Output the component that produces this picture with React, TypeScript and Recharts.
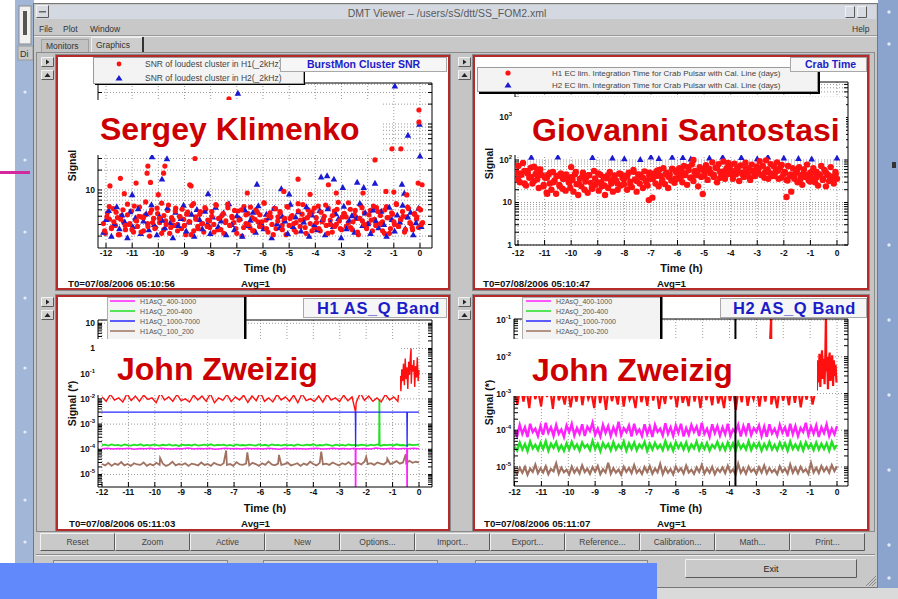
import React from 'react';
import { ComposedChart, Scatter, Line, XAxis, YAxis, CartesianGrid, ReferenceLine } from 'recharts';

const FONT = "'Liberation Sans', Arial, Helvetica, sans-serif";

// ---------------- data ----------------
const hourTicks = [-12, -11, -10, -9, -8, -7, -6, -5, -4, -3, -2, -1, 0];

// Top-left: BurstMon cluster SNR
const tlRedBand = [
  3.1,2.2,4.5,3.6,2.6,5.2,2.9,3.8,2.1,4.1,3.3,2.5,6.1,3.0,4.8,2.3,3.5,2.8,5.5,3.9,
  2.4,4.2,3.1,2.0,5.0,3.7,2.7,4.4,3.2,6.3,2.5,3.4,4.9,2.2,3.8,2.9,5.3,3.0,4.0,2.6,
  3.6,2.1,4.6,3.3,5.8,2.4,3.9,2.8,4.3,3.1,2.3,5.1,3.5,2.7,4.7,3.0,6.0,2.5,3.7,4.1,
  2.2,3.4,5.4,2.9,4.0,3.2,2.6,4.8,3.6,2.0,5.6,3.1,4.4,2.7,3.8,2.4,5.0,3.3,4.2,2.8,
  6.4,3.5,2.3,4.5,3.0,5.2,2.6,3.9,4.7,2.9,3.4,2.1,5.5,3.7,4.1,2.5,3.2,6.2,2.8,4.3,
  3.6,2.2,5.0,3.1,4.6,2.7,3.8,5.7,2.4,3.3,4.0,2.9,5.3,3.5,2.3,4.8,3.0,6.5,2.6,3.9,
  4.4,2.8,3.2,5.1,2.5,4.2,3.7,2.1,5.9,3.4,4.5,2.7,3.1,4.9,2.4,3.6,5.4,2.9,4.1,3.3,
  2.2,5.6,3.8,2.6,4.3,3.0,6.0,2.8,3.5,4.7,2.3,3.9,5.2,3.1,2.5,4.4,3.6,2.7,5.0,3.2,
];
const tlRedBand2 = [
  2.4,3.9,5.6,2.7,3.3,4.6,2.1,3.6,5.0,2.9,4.2,3.1,2.5,5.7,3.4,4.0,2.3,3.8,6.6,2.8,
  4.5,3.2,2.6,5.3,3.7,2.2,4.1,3.0,5.9,2.7,3.5,4.8,2.4,3.9,5.1,2.9,4.3,3.3,2.1,6.2,
  3.6,2.6,4.7,3.1,5.4,2.8,3.4,4.0,2.3,5.8,3.7,2.5,4.4,3.2,6.1,2.9,3.8,4.9,2.2,3.5,
  5.0,2.7,4.2,3.0,5.5,2.4,3.6,4.6,2.8,3.3,6.3,2.6,4.1,3.9,2.1,5.2,3.4,4.5,2.5,3.7,
  5.6,2.9,4.0,3.1,2.3,4.8,3.5,6.0,2.7,3.8,4.3,2.4,5.3,3.2,2.6,4.6,3.6,5.9,2.2,3.0,
  4.1,2.8,5.1,3.4,2.5,4.4,3.9,6.4,2.7,3.3,4.9,2.3,3.7,5.4,3.0,2.6,4.2,3.5,5.7,2.9,
  4.7,3.1,2.4,5.0,3.8,2.2,4.5,3.3,6.2,2.8,3.6,4.0,2.5,5.5,3.2,2.7,4.3,3.9,5.2,3.0,
];
const tlBlueBand = [
  2.3,3.6,4.9,2.0,3.1,5.6,2.6,4.2,3.3,1.9,4.7,2.8,3.8,5.2,2.2,3.4,4.4,2.5,6.0,3.0,
  2.1,4.0,3.5,2.7,5.4,3.2,1.9,4.6,2.9,3.7,5.9,2.4,3.3,4.3,2.0,5.1,3.6,2.6,4.8,3.1,
  2.2,3.9,5.5,2.8,3.4,4.5,2.1,6.2,3.0,2.5,4.1,3.7,2.0,5.0,2.9,3.5,4.6,2.3,5.8,3.2,
  2.6,4.3,3.8,1.9,5.3,3.1,2.7,4.0,3.4,2.2,6.1,2.8,3.9,4.7,2.4,3.3,5.6,2.0,4.2,3.0,
  2.5,4.9,3.6,2.1,5.2,3.2,2.8,4.4,3.7,1.9,5.7,2.6,3.5,4.1,2.3,3.8,6.3,2.9,4.5,3.1,
  2.2,5.0,3.4,2.7,4.8,3.0,2.0,5.5,3.6,2.4,4.2,3.3,5.9,2.6,3.9,4.6,2.1,3.2,5.3,2.8,
];
const tlRedOutliers = [
  [-11.85,11.5],[-11.45,15],[-11.3,8.8],[-10.85,12.7],[-10.43,18],[-10.4,23],[-10.3,13],[-10.0,8.5],
  [-9.8,18],[-9.75,23],[-8.8,12],[-8.75,11.5],[-8.6,30],[-7.3,240],[-6.6,9],[-5.2,9.5],[-4.66,14.6],
  [-4.2,8.6],[-3.5,12],[-3.2,9],[-2.18,9],[-1.72,28.5],[-1.3,9.5],[-1.07,42],[-1.0,9.3],[-0.73,42],
  [-0.5,8.4],[-0.04,163],[-0.04,107],[-0.07,12.7],[0.08,12],
];
const tlBlueOutliers = [
  [-11.0,8.5],[-10.24,32],[-9.86,14.7],[-9.67,30],[-8.1,8.8],[-6.96,295],[-6.23,12.3],[-5.3,10.5],
  [-5.0,8.7],[-3.78,15.8],[-3.55,16.5],[-3.29,14.7],[-2.95,11],[-2.4,13.2],[-2.15,11],[-1.72,12.7],
  [-0.96,378],[-0.69,12.3],[-0.6,9],[-0.46,68],[-0.02,100],[0,33],
];

// Top-right: Crab time
const trRedBand = [
  50,72,30,45,85,55,25,48,38,66,28,70,47,35,22,60,44,
  24,38,17,45,28,20,52,33,16,42,26,48,21,36,19,40,30,
  22,40,18,46,27,15,36,24,50,20,38,17,44,29,21,55,26,
  30,19,45,24,40,15,37,22,52,28,18,43,33,20,48,25,38,
  27,42,20,50,31,23,58,35,18,46,28,40,22,54,33,25,44,
  36,13,48,28,56,24,42,30,64,27,50,22,45,33,60,29,52,
  36,64,40,30,72,48,26,58,38,78,32,55,44,24,68,40,60,
  45,75,34,62,48,88,40,66,30,80,52,42,92,36,64,47,76,
  55,36,82,46,66,32,74,50,40,86,48,64,34,78,53,42,70,
  58,94,45,72,38,98,60,50,80,42,70,52,88,36,66,76,46,
  52,34,72,42,18,64,36,50,30,68,44,26,60,40,78,34,50,
  38,64,30,52,25,46,72,34,58,24,45,32,68,40,28,52,36,
];
const trRedBand2 = [
  35,48,28,55,40,32,60,45,26,38,50,30,42,24,36,46,29,34,52,27,
  40,31,44,22,37,48,30,25,43,33,39,28,47,35,41,26,53,32,45,38,
  30,50,36,42,58,34,46,40,62,37,48,55,44,68,39,52,46,60,42,57,
  50,45,64,38,54,48,70,43,58,51,46,63,40,55,49,66,44,52,36,47,
  42,56,38,50,33,46,40,58,35,48,44,31,52,39,45,37,50,42,34,46,
];
const trRedOutliers = [[-10.0,68],[-7.08,11.4],[-5.4,100],[-5.05,15.8],[-1.9,13.5],[-10.9,16],[-4.1,85]];
const trBlue = [
  [-11.5,117],[-10.5,118],[-9.2,115],[-8.45,112],[-8.0,108],[-7.4,104],[-7.0,119],[-6.7,110],[-6.2,117],
  [-5.8,115],[-5.5,106],[-4.8,112],[-4.3,118],[-3.6,116],[-3.0,108],[-2.6,119],[-2.0,113],[-1.45,110],
  [-0.95,107],[0,112],
];

// Bottom-left: H1 AS_Q band
const blRed = [
  1.2,0.8,1.5,0.9,1.1,0.75,1.6,0.85,1.3,0.8,1.4,0.95,1.1,0.7,1.7,0.9,1.2,0.8,1.5,0.85,
  1.0,0.75,1.4,0.9,1.3,0.8,1.6,0.7,1.1,0.88,1.5,0.78,1.2,0.9,1.4,0.72,1.3,0.85,1.8,0.8,
  1.1,0.76,1.5,0.9,1.2,0.8,1.4,0.7,1.6,0.86,1.0,0.8,1.3,0.74,1.5,0.9,1.1,0.78,1.4,0.84,
  1.2,0.72,1.7,0.88,1.3,0.8,1.1,0.76,1.5,0.9,1.2,0.8,
];
const blRedEnd = [3,8,2,15,5,25,3.5,40,6,18,2.5,30,9,50,4,22,12,35,3,20,7,45,5,14];
const blRedSpikes = [[-2.4,0.3],[-0.3,100]];
const blGreen = [
  1.45,1.52,1.4,1.56,1.43,1.5,1.38,1.55,1.46,1.41,1.53,1.44,1.58,1.39,1.49,1.42,1.54,1.47,1.4,1.51,
  1.44,1.57,1.41,1.48,1.36,1.53,1.45,1.5,1.42,1.55,1.39,1.47,1.52,1.43,1.58,1.4,1.49,1.46,1.54,1.41,
  1.5,1.37,1.56,1.44,1.48,1.42,1.53,1.45,1.4,1.57,1.43,1.51,1.38,1.55,1.46,1.49,1.41,1.54,1.44,1.5,
  1.39,1.56,1.47,1.42,1.52,1.45,1.58,1.4,1.48,1.43,1.55,1.46,1.38,1.53,1.44,1.5,1.41,1.57,1.45,1.49,
  1.42,1.54,1.47,1.4,1.52,1.44,1.56,1.39,1.5,1.46,1.53,1.42,1.58,1.45,1.48,1.41,1.55,1.47,1.5,1.52,
];
const blGreenSpikes = [[-1.51,1.46],[-1.5,100],[-1.49,1.47]];
const blMagenta = [
  1.05,1.1,1.02,1.08,1.04,1.11,1.01,1.07,1.05,1.09,1.03,1.1,1.06,1.02,1.08,1.04,1.12,1.03,1.07,1.05,
  1.09,1.01,1.06,1.1,1.04,1.08,1.02,1.11,1.05,1.07,1.03,1.09,1.06,1.01,1.1,1.04,1.08,1.05,1.02,1.07,
  1.11,1.03,1.06,1.09,1.04,1.08,1.02,1.1,1.05,1.07,1.03,1.12,1.06,1.04,1.09,1.02,1.08,1.05,1.1,1.06,
];
const blMagentaDips = [[-2.41,1.06],[-2.4,0.001],[-2.39,1.05],[-0.46,1.07],[-0.45,0.001],[-0.44,1.06]];
const blBrown = [
  2.6,2.3,2.9,2.2,2.7,2.4,3.1,2.3,2.6,2.2,2.8,2.5,2.4,3.0,2.2,2.6,2.3,2.9,2.4,2.7,
  2.2,2.5,3.2,2.3,2.6,2.4,2.8,2.2,2.7,2.5,2.3,3.0,2.4,2.6,2.2,2.9,2.5,2.3,2.8,2.4,
  2.6,2.2,3.1,2.5,2.4,2.7,2.3,2.9,2.6,2.2,2.8,2.4,3.3,2.5,2.3,2.7,2.4,2.6,3.0,2.3,
  2.5,2.8,2.2,2.7,2.4,3.2,2.6,2.3,2.9,2.5,2.7,2.4,3.0,2.6,2.3,2.8,2.5,3.1,2.4,2.7,
  2.9,2.5,3.3,2.6,2.8,2.4,3.0,2.7,2.5,3.2,2.6,2.9,3.4,2.7,3.0,2.8,3.5,2.9,3.2,3.0,
];
const blBrownSpikes = [[-9.8,4.5],[-7.3,9],[-6.5,7.5],[-5.3,6],[-3.7,8],[-2.0,5],[-1.2,4.2],[-0.5,6.5]];
const blBlue = [[-12,3],[-2.41,3],[-2.4,0.12],[-2.39,3],[-0.46,3],[-0.45,0.12],[-0.44,3],[0,3]];

// Bottom-right: H2 AS_Q band
const brRed = [
  1.0,0.5,1.8,0.6,1.4,0.4,2.2,0.7,1.2,0.45,1.9,0.8,1.5,0.38,2.4,0.65,1.1,0.5,1.7,0.42,
  1.3,0.6,2.0,0.48,1.6,0.7,1.1,0.4,2.3,0.55,1.4,0.36,1.8,0.62,1.2,0.5,2.1,0.44,1.5,0.68,
  1.0,0.4,1.9,0.58,1.3,0.46,2.5,0.64,1.6,0.38,1.2,0.52,2.0,0.7,1.4,0.42,1.7,0.56,1.1,0.45,
  2.2,0.6,1.5,0.4,1.8,0.66,1.3,0.48,2.4,0.54,1.0,0.4,1.9,0.62,1.4,0.36,1.6,0.58,2.1,0.46,
  1.2,0.7,1.7,0.44,1.5,0.6,2.3,0.5,1.1,0.4,1.8,0.64,1.3,0.48,2.0,0.56,1.6,0.42,1.4,0.68,
  1.9,0.5,1.2,
];
const brRedEnd = [3,1.2,8,2,12,1.5,6,15,2.5,9,1.8,14,4,10,1.3,7,13,2.2,5,11,1.6,8,3,6,2];
const brRedSpikes = [[-2.45,120],[-0.41,200]];
const brMagenta = [
  1.0,0.7,1.4,0.8,1.2,0.65,1.5,0.9,1.1,0.7,1.3,0.75,1.6,0.85,1.2,0.7,1.4,0.8,1.05,0.66,
  1.35,0.9,1.5,0.72,1.15,0.8,1.45,0.7,1.25,0.95,1.6,0.75,1.1,0.68,1.4,0.85,1.3,0.7,1.2,0.8,
  1.7,0.74,1.15,0.9,1.35,0.68,1.5,0.82,1.05,0.7,1.45,0.78,1.25,0.66,1.4,0.9,1.1,0.72,1.55,0.8,
  1.2,0.7,1.35,0.85,1.5,0.68,1.15,0.76,1.4,0.9,1.25,0.7,1.6,0.8,1.1,0.66,1.45,0.84,1.3,0.72,
  1.2,0.78,1.5,0.7,1.05,0.88,1.4,0.68,1.3,0.8,1.55,0.74,1.15,0.9,1.35,0.7,1.25,0.66,1.45,0.82,
  1.1,0.72,1.4,0.86,1.2,0.68,1.5,0.78,1.3,0.7,1.15,0.9,1.6,0.74,1.25,0.8,1.35,0.66,1.2,0.84,
  1.45,0.7,1.1,0.78,1.3,
];
const brGreen = [
  3.6,2.8,4.6,3.0,4.2,2.7,4.9,3.2,4.0,2.9,4.5,3.1,5.0,2.8,4.3,3.3,4.7,2.9,3.9,2.75,
  4.4,3.0,4.8,3.2,4.1,2.8,4.6,3.4,4.0,2.9,5.1,3.1,4.3,2.7,4.5,3.3,4.2,2.85,4.7,3.0,
  4.0,3.2,4.9,2.8,4.4,3.1,4.6,2.9,4.1,3.3,4.8,2.75,4.3,3.0,4.5,3.2,4.0,2.9,5.0,3.1,
  4.2,2.8,4.7,3.3,4.4,3.0,4.6,2.85,4.1,3.2,4.9,2.9,4.3,3.1,4.5,2.8,4.0,3.3,4.8,3.0,
  4.2,2.9,4.6,3.1,4.4,2.75,4.7,3.2,4.1,3.0,5.0,2.9,4.3,3.3,4.5,2.8,4.2,3.1,4.8,3.0,
  4.0,2.9,4.6,3.2,4.4,2.8,4.9,3.1,4.1,3.0,4.5,2.85,4.7,3.3,4.2,2.9,4.6,3.0,4.3,3.1,
  4.4,2.8,4.8,3.2,4.0,
];
const brBrown = [
  8.0,6.5,9.5,7.0,10.0,6.2,9.0,7.4,11.5,6.8,9.2,7.1,10.4,6.4,8.8,7.6,12.5,6.6,9.6,7.2,
  8.4,6.3,10.2,7.0,9.1,6.7,11.0,7.3,8.9,6.5,9.8,7.5,10.6,6.4,8.7,7.1,13.0,6.6,9.3,7.0,
  8.5,6.2,10.1,7.4,9.4,6.8,11.2,7.0,8.6,6.5,9.9,7.3,10.5,6.6,9.0,7.2,12.0,6.4,9.5,7.0,
  8.8,6.3,10.3,7.5,9.2,6.7,10.8,7.1,8.4,6.5,9.7,7.3,11.4,6.6,9.1,7.0,10.0,6.4,8.9,7.4,
  9.6,6.8,10.7,7.2,8.6,6.3,12.2,7.0,9.3,6.6,10.2,7.5,8.8,6.5,9.9,7.1,11.0,6.7,9.4,7.2,
  8.5,6.4,10.4,7.3,9.0,6.6,11.6,7.0,9.7,6.8,10.1,7.4,8.7,6.5,12.8,7.1,9.5,6.9,10.6,7.6,
  9.8,7.0,11.2,7.8,10.4,
];
const brMarkerTime = -3.78;

// texts
const tlLegend = ['SNR of loudest cluster in H1(_2kHz)', 'SNR of loudest cluster in H2(_2kHz)'];
const trLegend = [
  'H1 EC lim. Integration Time for Crab Pulsar with Cal. Line (days)',
  'H2 EC lim. Integration Time for Crab Pulsar with Cal. Line (days)',
];
const blLegend = ['H1AsQ_400-1000', 'H1AsQ_200-400', 'H1AsQ_1000-7000', 'H1AsQ_100_200'];
const brLegend = ['H2AsQ_400-1000', 'H2AsQ_200-400', 'H2AsQ_1000-7000', 'H2AsQ_100-200'];
const bandColors = ['#ff22ff', '#22e022', '#2a2aff', '#a07262'];
const buttonLabels = ['Reset', 'Zoom', 'Active', 'New', 'Options...', 'Import...', 'Export...', 'Reference...', 'Calibration...', 'Math...', 'Print...'];
const tlLabels = [10];
const trLabels = [1, 10, 100, 1000];
const blLabels = [1e-5, 1e-4, 1e-3, 1e-2, 1e-1, 1, 10];
const brLabels = [1e-5, 1e-4, 1e-3, 1e-2, 1e-1];

// ---------------- helpers ----------------
function spread(values: number[], t0: number, t1: number, unit = 1) {
  const n = values.length;
  return values.map((v, i) => ({ t: t0 + ((t1 - t0) * i) / (n - 1), v: v * unit }));
}
function pts(list: number[][], unit = 1) {
  return list.map(([t, v]) => ({ t, v: v * unit }));
}
function merge(...parts: any[]) {
  return parts.flat().sort((a: any, b: any) => a.t - b.t);
}
function logTicks(lo: number, hi: number) {
  const out: number[] = [];
  for (let e = Math.floor(Math.log10(lo)); e <= Math.ceil(Math.log10(hi)); e++) {
    for (let k = 1; k < 10; k++) {
      const v = k * Math.pow(10, e);
      if (v >= lo && v <= hi) out.push(v);
    }
  }
  return out;
}
function decadeTicks(lo: number, hi: number) {
  return logTicks(lo, hi).filter((v) => Math.abs(Math.log10(v) - Math.round(Math.log10(v))) < 1e-6);
}

const redDot = (r: number) => (p: any) => <circle cx={p.cx} cy={p.cy} r={r} fill="#ff1212" />;
const blueTri = (s: number) => (p: any) => (
  <path d={`M${p.cx},${p.cy - s} L${p.cx + s},${p.cy + s * 0.8} L${p.cx - s},${p.cy + s * 0.8} Z`} fill="#1a1ad2" />
);
const emptyTick = () => <g />;

function makeXTick(off: number) {
  return (p: any) => (
    <text x={p.x} y={p.y + off} textAnchor="middle" fontFamily={FONT} fontSize={8.5} fontWeight={700} fill="#111">
      {p.payload.value}
    </text>
  );
}
function makeYTick(labels: number[]) {
  return (p: any) => {
    const v = p.payload.value;
    const show = labels.some((l) => Math.abs(l - v) / l < 1e-6);
    if (!show) return <g />;
    const e = Math.round(Math.log10(v));
    const common = { x: p.x, y: p.y, dy: 3, textAnchor: 'end', fontFamily: FONT, fontSize: 8.5, fontWeight: 700, fill: '#111' } as any;
    if (e === 0) return <text {...common}>1</text>;
    if (e === 1) return <text {...common}>10</text>;
    return (
      <text {...common}>
        10<tspan dy={-4} fontSize={6}>{e}</tspan>
      </text>
    );
  };
}

type Cfg = {
  left: number; top: number; width: number; height: number;
  plot: { x0: number; x1: number; y0: number; y1: number };
  xDomain: [number, number]; yDomain: [number, number];
  labels: number[]; minorGrid: boolean; xOff: number; tOff: number; yTitle: string;
};

function Panel({ cfg, children }: { cfg: Cfg; children: any }) {
  const { left, top, width, height, plot, xDomain, yDomain, labels, minorGrid, xOff, tOff, yTitle } = cfg;
  const pl = plot.x0 - left;
  const pr = left + width - plot.x1;
  const pt = plot.y0 - top;
  const pb = top + height - plot.y1;
  const yTicks = logTicks(yDomain[0], yDomain[1]);
  const gridY = minorGrid ? yTicks : decadeTicks(yDomain[0], yDomain[1]);
  const axisStroke = { stroke: '#000', strokeWidth: 1 };
  return (
    <div style={{ position: 'absolute', left, top, width, height }}>
      <ComposedChart width={width} height={height} margin={{ top: pt - 1, right: pr - 1, bottom: 0, left: 0 }}>
        <CartesianGrid
          xAxisId="b"
          yAxisId="l"
          horizontalValues={gridY}
          verticalValues={hourTicks}
          stroke="#9c9c9c"
          strokeDasharray="1 2"
        />
        <XAxis
          xAxisId="b"
          dataKey="t"
          type="number"
          domain={xDomain}
          allowDataOverflow
          ticks={hourTicks}
          interval={0}
          height={pb}
          tickSize={-5}
          tickMargin={5}
          tick={makeXTick(xOff)}
          axisLine={axisStroke}
          tickLine={axisStroke}
          label={{
            content: (p: any) => {
              const vb = p.viewBox || { x: pl, y: plot.y1 - top, width: plot.x1 - plot.x0 };
              return (
                <text x={vb.x + vb.width / 2} y={vb.y + tOff} textAnchor="middle" fontFamily={FONT} fontSize={11} fontWeight={700} fill="#111">
                  Time (h)
                </text>
              );
            },
          }}
        />
        <XAxis
          xAxisId="t"
          orientation="top"
          type="number"
          domain={xDomain}
          allowDataOverflow
          ticks={hourTicks}
          interval={0}
          height={1}
          tickSize={-5}
          tick={emptyTick}
          axisLine={axisStroke}
          tickLine={axisStroke}
        />
        <YAxis
          yAxisId="l"
          dataKey="v"
          type="number"
          scale="log"
          domain={yDomain}
          allowDataOverflow
          ticks={yTicks}
          interval={0}
          width={pl}
          tickSize={-4}
          tickMargin={7}
          tick={makeYTick(labels)}
          axisLine={axisStroke}
          tickLine={axisStroke}
          label={{
            content: (p: any) => {
              const vb = p.viewBox || { x: 0, y: pt, height: plot.y1 - plot.y0 };
              const cx = vb.x + 15;
              const cy = vb.y + vb.height / 2;
              return (
                <text x={cx} y={cy} dy={4} transform={`rotate(-90 ${cx} ${cy})`} textAnchor="middle" fontFamily={FONT} fontSize={10.5} fontWeight={700} fill="#111">
                  {yTitle}
                </text>
              );
            },
          }}
        />
        <YAxis
          yAxisId="r"
          orientation="right"
          type="number"
          scale="log"
          domain={yDomain}
          allowDataOverflow
          ticks={yTicks}
          interval={0}
          width={1}
          tickSize={-4}
          tick={emptyTick}
          axisLine={axisStroke}
          tickLine={axisStroke}
        />
        {children}
      </ComposedChart>
    </div>
  );
}

const cfgTL: Cfg = {
  left: 57, top: 56, width: 392, height: 233,
  plot: { x0: 98, x1: 432, y0: 83, y1: 248 },
  xDomain: [-12.306, 0.459], yDomain: [1.32, 418], labels: tlLabels, minorGrid: true, xOff: 8, tOff: 24, yTitle: 'Signal',
};
const cfgTR: Cfg = {
  left: 474, top: 56, width: 394, height: 233,
  plot: { x0: 515, x1: 848, y0: 82, y1: 245 },
  xDomain: [-12.113, 0.414], yDomain: [1, 6840], labels: trLabels, minorGrid: true, xOff: 11, tOff: 27, yTitle: 'Signal',
};
const cfgBL: Cfg = {
  left: 57, top: 296, width: 392, height: 234,
  plot: { x0: 98, x1: 432, y0: 320, y1: 487 },
  xDomain: [-12.151, 0.492], yDomain: [3.19e-6, 13.5], labels: blLabels, minorGrid: false, xOff: 8, tOff: 25, yTitle: 'Signal (*)',
};
const cfgBR: Cfg = {
  left: 474, top: 296, width: 394, height: 234,
  plot: { x0: 514, x1: 848, y0: 319, y1: 486 },
  xDomain: [-12.02, 0.409], yDomain: [3.04e-6, 0.1065], labels: brLabels, minorGrid: false, xOff: 9, tOff: 26, yTitle: 'Signal (*)',
};

// ---------------- chrome pieces ----------------
const T = (props: any) => {
  const { x, y, size = 8.5, bold, fill = '#333', anchor = 'start', children, ...rest } = props;
  return (
    <text x={x} y={y} fontSize={size} fontWeight={bold ? 700 : 400} fill={fill} textAnchor={anchor} fontFamily={FONT} {...rest}>
      {children}
    </text>
  );
};

function Bevel({ x, y, w, h, fill = '#c8c8c8' }: any) {
  return (
    <g>
      <rect x={x} y={y} width={w} height={h} fill={fill} />
      <path d={`M${x + 0.5},${y + h - 0.5} L${x + 0.5},${y + 0.5} L${x + w - 0.5},${y + 0.5}`} stroke="#f2f2f2" fill="none" />
      <path d={`M${x + 0.5},${y + h - 0.5} L${x + w - 0.5},${y + h - 0.5} L${x + w - 0.5},${y + 0.5}`} stroke="#5a5a5a" fill="none" />
    </g>
  );
}

function PanelFrame({ c }: { c: Cfg }) {
  return (
    <g>
      <rect x={c.left - 1.5} y={c.top - 1.5} width={c.width + 3} height={c.height + 3} fill="none" stroke="#8a8a8a" />
      <rect x={c.left} y={c.top} width={c.width} height={c.height} fill="#fff" stroke="#b52a2a" strokeWidth={2} />
      <Bevel x={c.left - 16} y={c.top + 1} w={13} h={10} fill="#d2d2d2" />
      <Bevel x={c.left - 16} y={c.top + 14} w={13} h={10} fill="#d2d2d2" />
      <path d={`M${c.left - 11},${c.top + 3.5} L${c.left - 7.5},${c.top + 6} L${c.left - 11},${c.top + 8.5} Z`} fill="#222" />
      <path d={`M${c.left - 12.5},${c.top + 21} L${c.left - 9.5},${c.top + 17} L${c.left - 6.5},${c.top + 21} Z`} fill="#222" />
    </g>
  );
}

function Background() {
  const leftDots = [92, 160, 232, 298, 368, 432, 500, 542];
  const rightDots = [12, 44, 245, 320, 395, 470, 545, 578];
  return (
    <svg width={898} height={599} style={{ position: 'absolute', left: 0, top: 0 }}>
      <rect x={0} y={0} width={898} height={599} fill="#ffffff" />
      <rect x={15} y={0} width={19} height={599} fill="#a2b6d7" />
      <rect x={19} y={6} width={12} height={38} fill="#f0f0f0" stroke="#8a8a8a" />
      <rect x={23} y={11} width={4} height={24} fill="#555" />
      <rect x={18} y={46} width={15} height={14} fill="#c9c9c9" stroke="#999" />
      <T x={20} y={57} size={9} fill="#333">Di</T>
      {leftDots.map((y) => <circle key={y} cx={25} cy={y} r={1.6} fill="#e4ebf6" />)}
      <rect x={0} y={171} width={30} height={3} fill="#d22a9c" />
      <rect x={878} y={0} width={20} height={599} fill="#8aa4ce" />
      {rightDots.map((y) => <circle key={y} cx={889} cy={y} r={1.7} fill="#e2eaf6" />)}
      <rect x={892} y={162} width={4} height={6} fill="#333" />
      <rect x={33.5} y={3.5} width={844} height={584} fill="#c8c8c8" stroke="#777" />
      <rect x={35} y={5} width={841} height={14} fill="#d4d8e0" />
      <Bevel x={36} y={5} w={13} h={13} fill="#d8dbe2" />
      <rect x={39} y={11} width={7} height={1.5} fill="#666" />
      <Bevel x={845} y={6} w={10} h={12} fill="#d8dbe2" />
      <Bevel x={857} y={6} w={10} h={12} fill="#d8dbe2" />
      <T x={447} y={17} size={10.5} fill="#5a5a5a" anchor="middle">DMT Viewer – /users/sS/dtt/SS_FOM2.xml</T>
      <line x1={34} y1={35.5} x2={877} y2={35.5} stroke="#9a9a9a" />
      <line x1={34} y1={36.5} x2={877} y2={36.5} stroke="#ececec" />
      <T x={39} y={31.5} size={8.5} fill="#333">File</T>
      <T x={63} y={31.5} size={8.5} fill="#333">Plot</T>
      <T x={90} y={31.5} size={8.5} fill="#333">Window</T>
      <T x={852} y={31.5} size={8.5} fill="#333">Help</T>
      <rect x={41.5} y={39.5} width={47} height={13} fill="#c2c2c2" stroke="#a0a0a0" />
      <T x={46} y={49} size={8.5} fill="#333">Monitors</T>
      <rect x={91} y={37} width={52} height={16} fill="#cdcdcd" />
      <path d="M91.5,53 L91.5,37.5 L142.5,37.5" stroke="#f0f0f0" fill="none" />
      <rect x={142} y={37} width={2} height={16} fill="#333" />
      <T x={96} y={48} size={8.5} fill="#333">Graphics</T>
      <rect x={36.5} y={52.5} width={838} height={479} fill="#c5c5c5" stroke="#8a8a8a" />
      <PanelFrame c={cfgTL} />
      <PanelFrame c={cfgTR} />
      <PanelFrame c={cfgBL} />
      <PanelFrame c={cfgBR} />
      {buttonLabels.map((b, i) => (
        <g key={b}>
          <Bevel x={40 + i * 75} y={533} w={75} h={18} fill="#c9c9c9" />
          <T x={40 + i * 75 + 37.5} y={545} size={8.5} fill="#444" anchor="middle">{b}</T>
        </g>
      ))}
      <line x1={36} y1={554.5} x2={875} y2={554.5} stroke="#8a8a8a" />
      <line x1={36} y1={555.5} x2={875} y2={555.5} stroke="#eeeeee" />
      <rect x={53.5} y={560.5} width={174} height={18} fill="#d6d6d6" stroke="#888" />
      <rect x={263.5} y={560.5} width={174} height={18} fill="#d6d6d6" stroke="#888" />
      <rect x={475.5} y={560.5} width={172} height={18} fill="#d6d6d6" stroke="#888" />
      <Bevel x={685} y={559} w={172} h={19} fill="#c9c9c9" />
      <T x={771} y={572} size={9} fill="#222" anchor="middle">Exit</T>
      <path d="M866,586 L876,576 M869,586 L876,579 M872,586 L876,582" stroke="#888" />
      <rect x={33} y={588} width={865} height={11} fill="#dadada" />
    </svg>
  );
}

function LegendLines({ x, y, labels }: any) {
  return (
    <g>
      {labels.map((l: string, i: number) => (
        <g key={l}>
          <line x1={x + 3} x2={x + 28} y1={y + 4 + i * 10} y2={y + 4 + i * 10} stroke={bandColors[i]} strokeWidth={1.5} />
          <T x={x + 33} y={y + 6.5 + i * 10} size={7} fill="#555">{l}</T>
        </g>
      ))}
    </g>
  );
}

function Overlay() {
  const nameStyle = { fontSize: 32, fontWeight: 700, fill: '#cc0000', fontFamily: FONT } as any;
  return (
    <svg width={898} height={599} style={{ position: 'absolute', left: 0, top: 0, pointerEvents: 'none' }}>
      <rect x={95} y={59} width={210} height={26} fill="#000" />
      <rect x={93.5} y={57.5} width={210} height={26} fill="#f3f3f3" stroke="#9a9a9a" />
      <circle cx={119} cy={64} r={2.4} fill="#ff1212" />
      <path d="M119,75 L122.5,80.5 L115.5,80.5 Z" fill="#1a1ad2" />
      <T x={145} y={67} size={8.5} fill="#444">{tlLegend[0]}</T>
      <T x={145} y={81} size={8.5} fill="#444">{tlLegend[1]}</T>
      <rect x={280.5} y={57.5} width={166} height={14} fill="#f6f6f6" stroke="#a8a8a8" />
      <T x={307} y={68} size={10.5} bold fill="#1c1cc8">BurstMon Cluster SNR</T>

      <rect x={479} y={69} width={341} height={25} fill="#000" />
      <rect x={477.5} y={67.5} width={340} height={24} fill="#f3f3f3" stroke="#9a9a9a" />
      <circle cx={508} cy={73} r={2.6} fill="#ff1212" />
      <path d="M508,82 L511.5,87.5 L504.5,87.5 Z" fill="#1a1ad2" />
      <T x={552} y={76} size={8} fill="#444">{trLegend[0]}</T>
      <T x={552} y={88} size={8} fill="#444">{trLegend[1]}</T>
      <rect x={790.5} y={57.5} width={76} height={14} fill="#f6f6f6" stroke="#a8a8a8" />
      <T x={805} y={68} size={10.5} bold fill="#1c1cc8">Crab Time</T>

      <rect x={107.5} y={297.5} width={137} height={44} fill="#f3f3f3" stroke="#b0b0b0" />
      <rect x={244} y={297} width={2.5} height={45} fill="#000" />
      <LegendLines x={107} y={297} labels={blLegend} />
      <rect x={303.5} y={298.5} width={143} height={19} fill="#f6f6f6" stroke="#a8a8a8" />
      <T x={317} y={314} size={16.5} bold fill="#1c1cc8" letterSpacing={0.6}>H1 AS_Q Band</T>

      <rect x={522.5} y={297.5} width={138} height={44} fill="#f3f3f3" stroke="#b0b0b0" />
      <rect x={660} y={297} width={2.5} height={45} fill="#000" />
      <LegendLines x={523} y={297} labels={brLegend} />
      <rect x={720.5} y={298.5} width={146} height={19} fill="#f6f6f6" stroke="#a8a8a8" />
      <T x={733} y={314} size={16.5} bold fill="#1c1cc8" letterSpacing={0.6}>H2 AS_Q Band</T>

      <T x={68} y={286.5} size={9.7} bold fill="#111">T0=07/08/2006 05:10:56</T>
      <T x={241} y={286.5} size={9.7} bold fill="#111">Avg=1</T>
      <T x={483} y={286.5} size={9.7} bold fill="#111">T0=07/08/2006 05:10:47</T>
      <T x={657} y={286.5} size={9.7} bold fill="#111">Avg=1</T>
      <T x={69} y={526.5} size={9.7} bold fill="#111">T0=07/08/2006 05:11:03</T>
      <T x={241} y={526.5} size={9.7} bold fill="#111">Avg=1</T>
      <T x={484} y={526.5} size={9.7} bold fill="#111">T0=07/08/2006 05:11:07</T>
      <T x={657} y={526.5} size={9.7} bold fill="#111">Avg=1</T>

      <rect x={93} y={100} width={290} height={55} fill="#fff" />
      <text x={100} y={140} {...nameStyle}>Sergey Klimenko</text>
      <rect x={512} y={97} width={334} height={58} fill="#fff" />
      <text x={532} y={141} {...nameStyle}>Giovanni Santostasi</text>
      <rect x={95} y={339} width={305} height={56} fill="#fff" />
      <text x={117} y={380} {...nameStyle}>John Zweizig</text>
      <rect x={512} y={339} width={305} height={57} fill="#fff" />
      <text x={532} y={381} {...nameStyle}>John Zweizig</text>

      <rect x={0} y={563} width={657} height={36} fill="#6189fb" />
    </svg>
  );
}

// ---------------- series tables ----------------
const tlRed1 = spread(tlRedBand, -12.1, 0.1);
const tlRed2 = spread(tlRedBand2, -12.05, 0.05);
const tlBlue = spread(tlBlueBand, -12.1, 0.05);
const tlRedOut = pts(tlRedOutliers);
const tlBlueOut = pts(tlBlueOutliers);

const trRed1 = spread(trRedBand, -12.05, 0.0);
const trRed2 = spread(trRedBand2, -12.0, -0.05);
const trRedOut = pts(trRedOutliers);
const trBlueData = pts(trBlue);

const blRedData = merge(spread(blRed, -12, -0.8, 1e-2), spread(blRedEnd, -0.75, 0, 1e-2), pts(blRedSpikes, 1e-2));
const blGreenData = merge(spread(blGreen, -12, 0, 1e-4), pts(blGreenSpikes, 1e-4));
const blMagentaData = merge(spread(blMagenta, -12, 0, 1e-4), pts(blMagentaDips, 1e-4));
const blBrownData = merge(spread(blBrown, -12, 0, 1e-5), pts(blBrownSpikes, 1e-5));
const blBlueData = pts(blBlue, 1e-3);

const brRedData = merge(spread(brRed, -12, -0.8, 1e-3), spread(brRedEnd, -0.78, -0.02, 1e-3), pts(brRedSpikes, 1e-3));
const brMagentaData = spread(brMagenta, -12, 0, 1e-4);
const brGreenData = spread(brGreen, -12, 0, 1e-5);
const brBrownData = spread(brBrown, -12, 0, 1e-6);

const lineProps = { xAxisId: 'b', yAxisId: 'l', dataKey: 'v', dot: false, isAnimationActive: false, strokeWidth: 1, type: 'linear' } as any;
const scatProps = { xAxisId: 'b', yAxisId: 'l', dataKey: 'v', isAnimationActive: false } as any;

export default function App() {
  return (
    <div style={{ position: 'fixed', left: 0, top: 0, width: 898, height: 599, overflow: 'hidden', background: '#fff' }}>
      <Background />
      <Panel cfg={cfgTL}>
        <Scatter {...scatProps} data={tlRed1} shape={redDot(2.6)} />
        <Scatter {...scatProps} data={tlBlue} shape={blueTri(3.3)} />
        <Scatter {...scatProps} data={tlRed2} shape={redDot(2.6)} />
        <Scatter {...scatProps} data={tlBlueOut} shape={blueTri(3.3)} />
        <Scatter {...scatProps} data={tlRedOut} shape={redDot(2.6)} />
      </Panel>
      <Panel cfg={cfgTR}>
        <Scatter {...scatProps} data={trBlueData} shape={blueTri(3.3)} />
        <Scatter {...scatProps} data={trRed1} shape={redDot(3.2)} />
        <Scatter {...scatProps} data={trRed2} shape={redDot(3.2)} />
        <Scatter {...scatProps} data={trRedOut} shape={redDot(3.2)} />
      </Panel>
      <Panel cfg={cfgBL}>
        <Line {...lineProps} data={blBrownData} stroke={bandColors[3]} strokeWidth={1.8} />
        <Line {...lineProps} data={blMagentaData} stroke={bandColors[0]} strokeWidth={1.5} />
        <Line {...lineProps} data={blGreenData} stroke={bandColors[1]} strokeWidth={1.8} />
        <Line {...lineProps} data={blRedData} stroke="#ff1010" strokeWidth={1.4} />
        <Line {...lineProps} data={blBlueData} stroke={bandColors[2]} strokeWidth={1.3} />
      </Panel>
      <Panel cfg={cfgBR}>
        <Line {...lineProps} data={brBrownData} stroke={bandColors[3]} strokeWidth={2.2} />
        <Line {...lineProps} data={brGreenData} stroke={bandColors[1]} strokeWidth={2.4} />
        <Line {...lineProps} data={brMagentaData} stroke={bandColors[0]} strokeWidth={2.4} />
        <Line {...lineProps} data={brRedData} stroke="#ff1010" strokeWidth={2.2} />
        <ReferenceLine xAxisId="b" yAxisId="l" x={brMarkerTime} stroke="#000" strokeWidth={2} />
      </Panel>
      <Overlay />
    </div>
  );
}
